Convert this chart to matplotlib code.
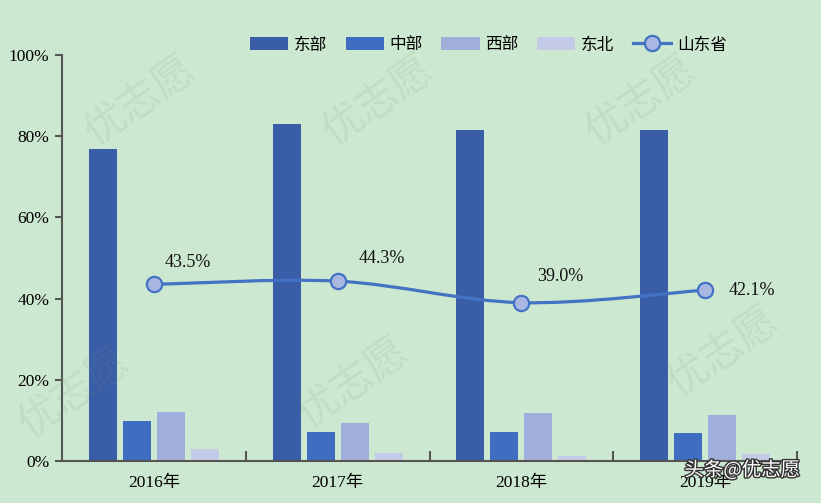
import matplotlib
matplotlib.use("Agg")
import matplotlib.pyplot as plt
import matplotlib.patheffects as pe
from matplotlib.path import Path
from matplotlib.patches import PathPatch, Patch
from matplotlib.lines import Line2D
import numpy as np

years = ["2016年", "2017年", "2018年", "2019年"]
east = [76.8, 83.0, 81.5, 81.5]
central = [9.8, 7.1, 7.1, 6.9]
west = [12.1, 9.4, 11.8, 11.3]
northeast = [3.0, 2.0, 1.2, 1.7]
shandong = [43.5, 44.3, 39.0, 42.1]
series_names = ["东部", "中部", "西部", "东北"]
line_name = "山东省"
y_ticks = [0, 20, 40, 60, 80, 100]

plt.rcParams['font.family'] = ['Liberation Serif', 'Noto Sans CJK SC', 'DejaVu Sans']
bg = "#CDE8D0"
fig = plt.figure(figsize=(8.21, 5.03), dpi=100, facecolor=bg)
ax = fig.add_axes([62/821, 42/503, 735/821, 406/503])
ax.set_facecolor(bg)

# faint watermarks
for (xf, yf) in [(0.17, 0.80), (0.46, 0.80), (0.78, 0.80),
                 (0.09, 0.22), (0.43, 0.24), (0.88, 0.30)]:
    fig.text(xf, yf, "优志愿", fontsize=30, color="#6E9A74", alpha=0.12, rotation=35,
             ha="center", va="center", family=['Noto Sans CJK SC'], zorder=5)

x = np.arange(len(years))
colors = ["#3A5DA8", "#3F6DC1", "#9FAEDA", "#C3CBE8"]
w = 0.152
step = 0.185
handles = []
for i, (vals, c, nm) in enumerate(zip([east, central, west, northeast], colors, series_names)):
    ax.bar(x + (i - 1.5) * step, vals, width=w, color=c, zorder=2)
    handles.append(Patch(facecolor=c, label=nm))

# smooth line (Catmull-Rom to Bezier)
pts = np.column_stack([x, shandong]).astype(float)
verts = [tuple(pts[0])]
codes = [Path.MOVETO]
n = len(pts)
for i in range(n - 1):
    p0 = pts[i - 1] if i > 0 else pts[i]
    p1 = pts[i]
    p2 = pts[i + 1]
    p3 = pts[i + 2] if i + 2 < n else pts[i + 1]
    c1 = p1 + (p2 - p0) / 6.0
    c2 = p2 - (p3 - p1) / 6.0
    verts += [tuple(c1), tuple(c2), tuple(p2)]
    codes += [Path.CURVE4] * 3
line_color = "#4472C4"
ax.add_patch(PathPatch(Path(verts, codes), fill=False, edgecolor=line_color, lw=2.3, zorder=3))
mk = dict(marker="o", markersize=11, markerfacecolor="#A8B8E2",
          markeredgecolor=line_color, markeredgewidth=1.6)
ax.plot(x, shandong, linestyle="none", zorder=4, **mk)
handles.append(Line2D([], [], color=line_color, lw=2.3, label=line_name, **mk))

offsets = [(0.185, 5.5), (0.24, 5.5), (0.21, 6.5), (0.255, 0.0)]
for xi, v, (dx, dy) in zip(x, shandong, offsets):
    ax.text(xi + dx, v + dy, f"{v:.1f}%", ha="center", va="center", fontsize=13,
            color="#111111", zorder=6)

ax.set_xlim(-0.5, 3.5)
ax.set_ylim(0, 100)
ax.set_yticks(y_ticks)
ax.set_yticklabels([f"{t}%" for t in y_ticks], fontsize=12.5)
ax.set_xticks(x)
ax.set_xticklabels(years, fontsize=12.5)
ax.set_xticks([0.5, 1.5, 2.5, 3.5], minor=True)
ax.tick_params(axis="x", which="major", length=0, pad=10)
ax.tick_params(axis="x", which="minor", length=7, direction="in", color="#555555", width=1.5)
ax.tick_params(axis="y", length=5, direction="out", color="#555555", width=1.5, pad=4)
for s in ["top", "right"]:
    ax.spines[s].set_visible(False)
for s in ["left", "bottom"]:
    ax.spines[s].set_color("#555555")
    ax.spines[s].set_linewidth(1.5)

ax.legend(handles=handles, loc="center", bbox_to_anchor=(0.58, 1 + 10/406), ncol=5,
          frameon=False, handlelength=2.3, handleheight=0.8, columnspacing=1.1,
          handletextpad=0.35, borderpad=0.2,
          prop={'family': ['Noto Sans CJK SC'], 'size': 12})

fig.text(0.975, 0.065, "头条@优志愿", ha="right", va="center", fontsize=14, color="white",
         family=['Noto Sans CJK SC'], zorder=7,
         path_effects=[pe.withStroke(linewidth=2, foreground="#333333")])

fig.savefig("out.png", dpi=100, facecolor=bg)
